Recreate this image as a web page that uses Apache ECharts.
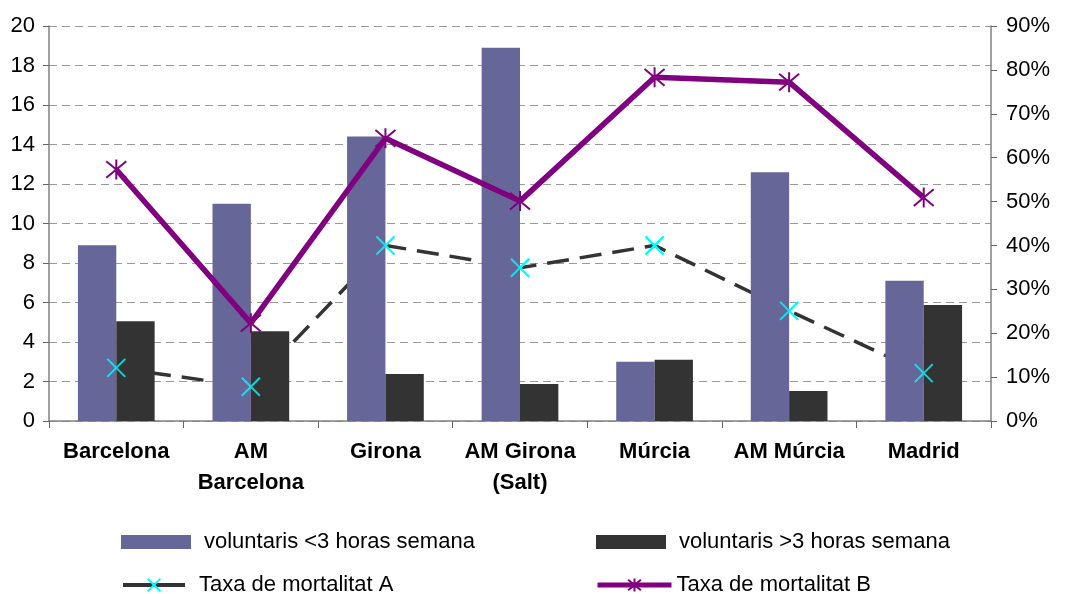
<!DOCTYPE html>
<html>
<head>
<meta charset="utf-8">
<script src="https://cdn.jsdelivr.net/npm/echarts@6/dist/echarts.min.js"></script>
<style>
  html, body { margin: 0; padding: 0; background: #fff; }
  #chart { width: 1073px; height: 594px; }
</style>
</head>
<body>
<div id="chart"></div>
<script>
// data
var categories = ['Barcelona', 'AM\nBarcelona', 'Girona', 'AM Girona\n(Salt)', 'Múrcia', 'AM Múrcia', 'Madrid'];
var voluntarisMenys3 = [8.9, 11.0, 14.4, 18.9, 3.0, 12.6, 7.1];
var voluntarisMes3 = [5.05, 4.55, 2.38, 1.87, 3.1, 1.52, 5.87];
var taxaA = [12.1, 7.8, 40.0, 34.9, 40.0, 25.1, 10.9];
var taxaB = [57.3, 22.3, 64.4, 50.1, 78.3, 77.2, 50.9];

var leftMin = 0, leftMax = 20, leftStep = 2;
var rightMin = 0, rightMax = 90, rightStep = 10;

var FONT = '"Liberation Sans", Arial, sans-serif';
var crossSymbol = 'path://M0,0L10,10M10,0L0,10';
var starSymbol = 'path://M0,0L10,10M10,0L0,10M5,-1L5,11';

var myChart = echarts.init(document.getElementById('chart'));

function oneLegend(name, left, top, w, h, textPad, extra) {
	var leg = {
		data: [name],
		left: left,
		top: top,
		padding: 0,
		itemWidth: w,
		itemHeight: h,
		selectedMode: false,
		textStyle: {
			fontFamily: FONT,
			fontSize: 22,
			color: '#000',
			padding: [0, 0, 0, textPad]
		}
	};
	for (var k in extra) leg[k] = extra[k];
	return leg;
}

var option = {
	animation: false,
	backgroundColor: '#fff',
	textStyle: { fontFamily: FONT },
	grid: {
		left: 49,
		right: 82,
		top: 26,
		bottom: 173,
		containLabel: false
	},
	legend: [
		oneLegend('voluntaris <3 horas semana', 121, 531, 70, 14, 8, { icon: 'rect' }),
		oneLegend('voluntaris >3 horas semana', 596, 531, 70, 14, 8, { icon: 'rect' }),
		oneLegend('Taxa de mortalitat A', 121, 574, 62, 16, 9, { lineStyle: { width: 4, type: 'solid' } }),
		oneLegend('Taxa de mortalitat B', 595, 574, 74, 16, 0, { lineStyle: { width: 5 } })
	],
	xAxis: {
		type: 'category',
		data: categories,
		axisLine: { lineStyle: { color: '#808080', width: 1.5 } },
		axisTick: { show: true, length: 7, alignWithLabel: false, lineStyle: { color: '#666' } },
		axisLabel: {
			interval: 0,
			margin: 15,
			color: '#000',
			fontFamily: FONT,
			fontSize: 22,
			fontWeight: 'bold',
			lineHeight: 31
		},
		splitLine: { show: false }
	},
	yAxis: [{
		type: 'value',
		min: leftMin,
		max: leftMax,
		interval: leftStep,
		axisLine: { show: true, lineStyle: { color: '#808080', width: 1.5 } },
		axisTick: { show: true, length: 6, lineStyle: { color: '#666' } },
		axisLabel: { margin: 14, color: '#000', fontFamily: FONT, fontSize: 22 },
		splitLine: {
			show: true,
			lineStyle: { color: '#9a9a9a', type: [8, 5], width: 1 }
		}
	}, {
		type: 'value',
		position: 'right',
		min: rightMin,
		max: rightMax,
		interval: rightStep,
		axisLine: { show: true, lineStyle: { color: '#808080', width: 1.5 } },
		axisTick: { show: true, length: 6, lineStyle: { color: '#666' } },
		axisLabel: { margin: 15, color: '#000', fontFamily: FONT, fontSize: 22, formatter: '{value}%' },
		splitLine: { show: false }
	}],
	series: [{
		name: 'voluntaris <3 horas semana',
		type: 'bar',
		yAxisIndex: 0,
		barGap: '0%',
		barCategoryGap: '43%',
		itemStyle: { color: '#666699' },
		z: 2,
		data: voluntarisMenys3
	}, {
		name: 'voluntaris >3 horas semana',
		type: 'bar',
		yAxisIndex: 0,
		itemStyle: { color: '#333333' },
		z: 2,
		data: voluntarisMes3
	}, {
		// dashed line sits behind the bars
		name: 'Taxa de mortalitat A',
		type: 'line',
		yAxisIndex: 1,
		symbol: crossSymbol,
		symbolSize: 18,
		showAllSymbol: true,
		itemStyle: { color: 'rgba(0,0,0,0)', borderColor: '#00ffff', borderWidth: 2 },
		lineStyle: { color: '#333333', width: 3.5, type: [22, 11] },
		z: 1,
		data: taxaA
	}, {
		// its markers are drawn on top of the bars
		name: 'markersA',
		type: 'scatter',
		yAxisIndex: 1,
		symbol: crossSymbol,
		symbolSize: 18,
		itemStyle: { color: 'rgba(0,0,0,0)', borderColor: '#00ffff', borderWidth: 2 },
		z: 5,
		data: taxaA
	}, {
		name: 'Taxa de mortalitat B',
		type: 'line',
		yAxisIndex: 1,
		symbol: starSymbol,
		symbolSize: 20,
		showAllSymbol: true,
		itemStyle: { color: 'rgba(0,0,0,0)', borderColor: '#800080', borderWidth: 2 },
		lineStyle: { color: '#800080', width: 5.5 },
		z: 4,
		data: taxaB
	}]
};

myChart.setOption(option);
</script>
</body>
</html>
